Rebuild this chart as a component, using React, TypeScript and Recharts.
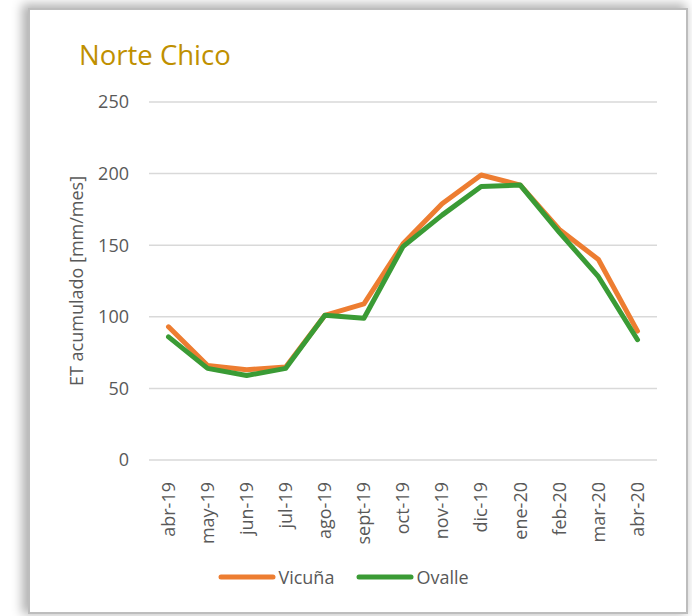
import React from 'react';
import { LineChart, Line, XAxis, YAxis, CartesianGrid, Legend, Label } from 'recharts';

const MONTHS = [
  'abr-19', 'may-19', 'jun-19', 'jul-19', 'ago-19', 'sept-19', 'oct-19',
  'nov-19', 'dic-19', 'ene-20', 'feb-20', 'mar-20', 'abr-20',
];
const VICUNA = [93, 66, 63, 65, 101, 109, 151, 179, 199, 192, 161, 140, 90];
const OVALLE = [86, 64, 59, 64, 101, 99, 149, 171, 191, 192, 159, 128, 84];
const Y_TICKS = [0, 50, 100, 150, 200, 250];

const SERIES = [
  { key: 'vicuna', name: 'Vicuña', color: '#ED7D31', values: VICUNA },
  { key: 'ovalle', name: 'Ovalle', color: '#3A9B35', values: OVALLE },
];

const data = MONTHS.map((m, i) => {
  const row: Record<string, string | number> = { month: m };
  SERIES.forEach((s) => { row[s.key] = s.values[i]; });
  return row;
});

const FONT = '"Open Sans", "Noto Sans", sans-serif';
const TEXT = '#595959';

function MonthTick({ x, y, payload }: any) {
  return (
    <text
      x={x}
      y={y}
      transform={`rotate(-90, ${x}, ${y + 14})`}
      textAnchor="end"
      fontSize={18}
      fontFamily={FONT}
      fill={TEXT}
    >
      <tspan x={x} y={y + 14} dy="0.35em">{payload.value}</tspan>
    </text>
  );
}

function LegendContent({ payload }: any) {
  // keep the series order, not the alphabetical one
  const items = SERIES.map((s) => (payload || []).find((p: any) => p.value === s.name)).filter(Boolean);
  return (
    <div style={{ height: 30, display: 'flex', justifyContent: 'center', alignItems: 'center', gap: 22 }}>
      {items.map((p: any) => (
        <div key={p.value} style={{ display: 'flex', alignItems: 'center' }}>
          <svg width={58} height={10}>
            <line x1={3} y1={5} x2={55} y2={5} stroke={p.color} strokeWidth={5} strokeLinecap="round" />
          </svg>
          <span style={{ fontFamily: FONT, fontSize: 18, color: TEXT, marginLeft: 2 }}>{p.value}</span>
        </div>
      ))}
    </div>
  );
}

export default function App() {
  return (
    <div style={{ position: 'fixed', left: 0, top: 0, width: 692, height: 616, background: '#fff', overflow: 'hidden' }}>
      <div
        style={{
          position: 'absolute',
          left: 28,
          top: 8,
          width: 656,
          height: 602,
          border: '2px solid #bdbdbd',
          boxShadow: '-4px -2px 10px 2px rgba(0,0,0,0.3)',
          background: '#fff',
        }}
      />
      <div
        style={{
          position: 'absolute',
          left: 79,
          top: 41,
          fontFamily: FONT,
          fontSize: 27.5,
          lineHeight: 1,
          color: '#BF9000',
        }}
      >
        Norte Chico
      </div>
      <div style={{ position: 'absolute', left: 30, top: 10 }}>
        <LineChart width={656} height={602} data={data} margin={{ top: 92, right: 29, bottom: 20, left: 0 }}>
          <CartesianGrid vertical={false} stroke="#d9d9d9" strokeWidth={1.5} />
          <XAxis
            dataKey="month"
            interval={0}
            axisLine={false}
            tickLine={false}
            padding={{ left: 19.5, right: 19.5 }}
            height={102}
            tick={<MonthTick />}
          />
          <YAxis
            width={119}
            domain={[0, 250]}
            ticks={Y_TICKS}
            axisLine={false}
            tickLine={false}
            tickSize={0}
            tickMargin={20}
            tick={{ fontSize: 18, fontFamily: FONT, fill: TEXT }}
          >
            <Label
              value="ET acumulado [mm/mes]"
              angle={-90}
              position="center"
              dx={-13}
              style={{ fontSize: 18, fontFamily: FONT, fill: TEXT, textAnchor: 'middle' }}
            />
          </YAxis>
          <Legend verticalAlign="bottom" content={<LegendContent />} />
          {SERIES.map((s) => (
            <Line
              key={s.key}
              type="linear"
              dataKey={s.key}
              name={s.name}
              stroke={s.color}
              strokeWidth={5}
              strokeLinecap="round"
              strokeLinejoin="round"
              dot={false}
              isAnimationActive={false}
            />
          ))}
        </LineChart>
      </div>
    </div>
  );
}
